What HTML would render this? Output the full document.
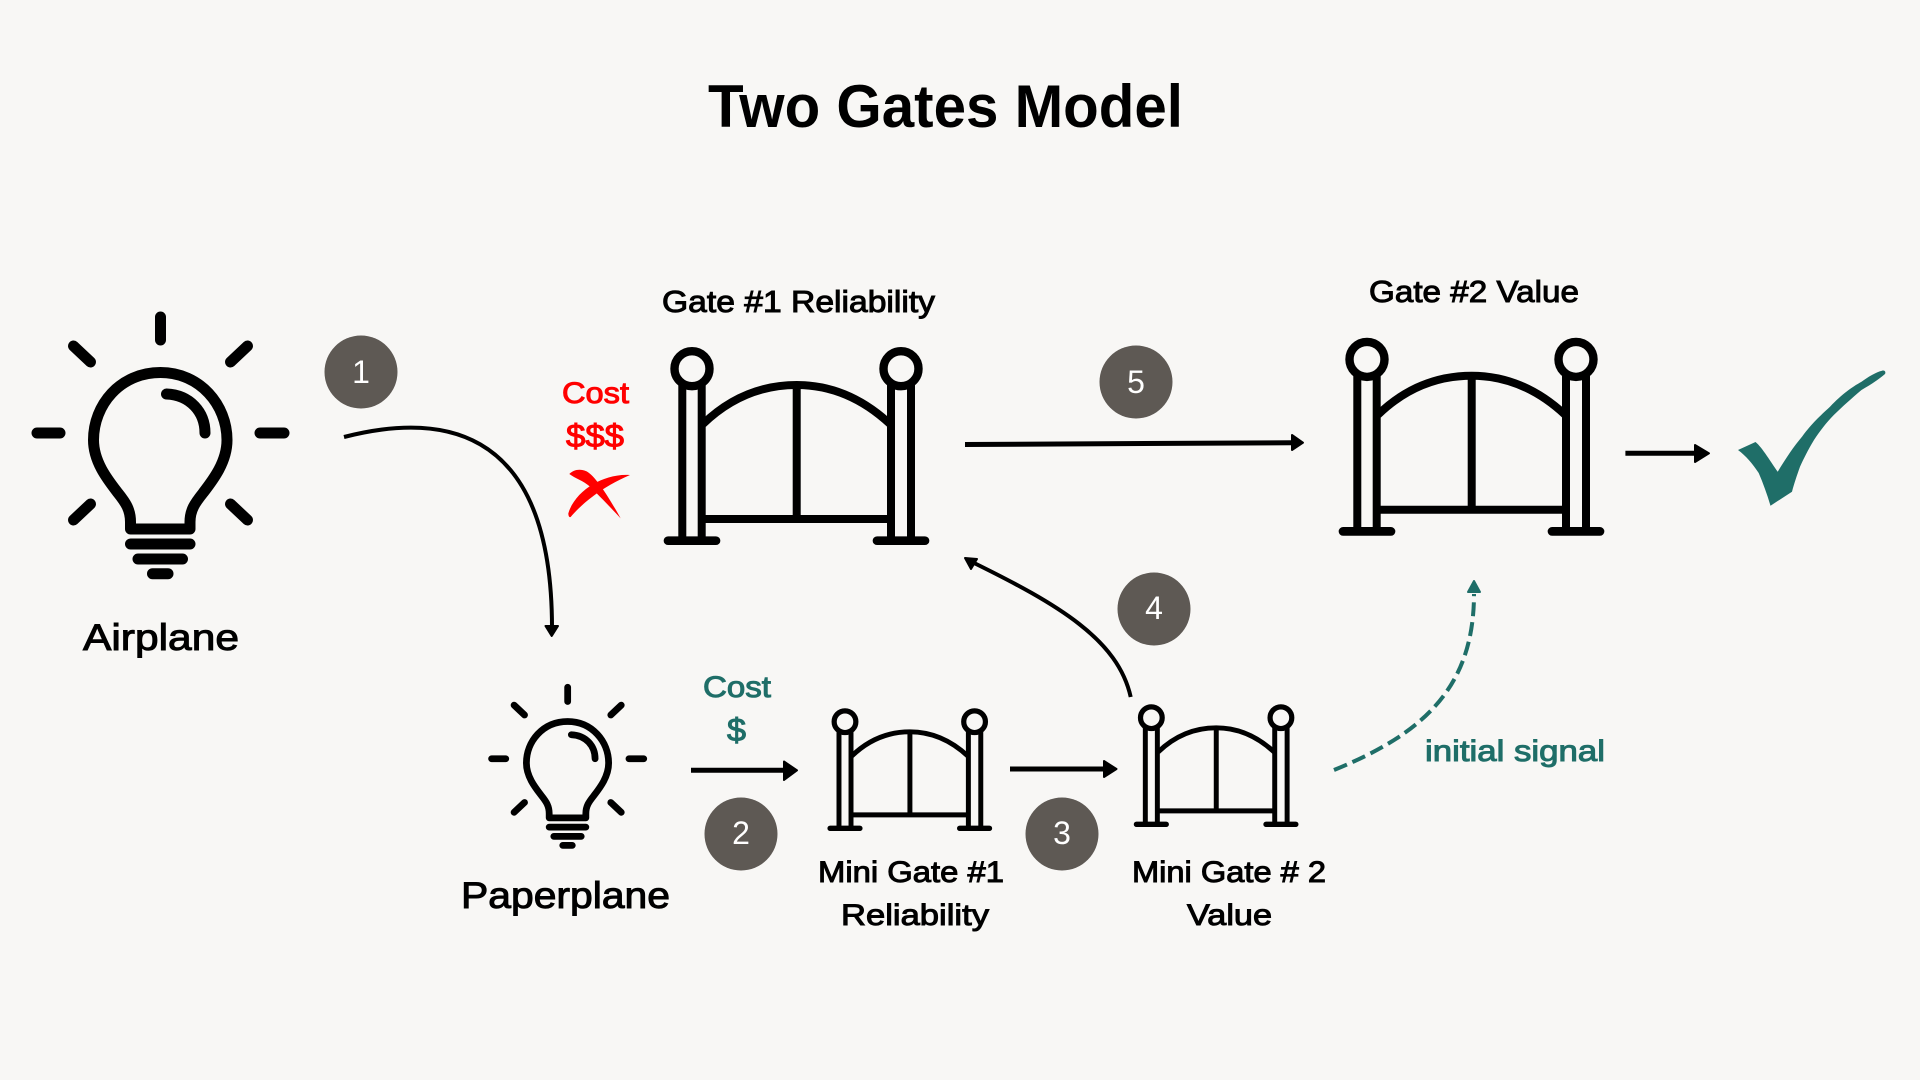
<!DOCTYPE html>
<html><head><meta charset="utf-8"><title>Two Gates Model</title>
<style>
html,body{margin:0;padding:0;background:#f8f7f5;width:1920px;height:1080px;overflow:hidden}
svg{display:block}
text{font-family:"Liberation Sans",sans-serif}
.m{fill:#000;stroke:#000;stroke-width:1}
.r{fill:#ff0000;stroke:#ff0000;stroke-width:1}
.t{fill:#1f6e68;stroke:#1f6e68;stroke-width:1}
.d{fill:#fff;font-size:32px;text-anchor:middle}
</style></head><body>
<svg width="1920" height="1080" viewBox="0 0 1920 1080" xmlns="http://www.w3.org/2000/svg">
<defs>
<g id="bulb" fill="none" stroke="#000" stroke-width="11" stroke-linecap="round" stroke-linejoin="round">
<path d="M160.5 317V340M37 433H60M260 433H284M73.500 346L90.500 362M247.500 346L230.500 362M90.500 504L73.500 520M230.500 504L247.500 520"/>
<path d="M160.500 372.500C120 372.500 93.500 405 93.500 440C93.500 462 108 480 118 493C126 503 130.500 510 130.500 522V529H190V522C190 510 195 503 203 493C213 480 227 462 227 440C227 405 200 372.500 160.500 372.500Z"/>
<path d="M166.500 394C190 395 205 412 205 433"/>
<path d="M130.500 544H190M138 559H182.500M152.500 573.700H168"/>
</g>
<g id="gate" fill="none" stroke="#000" stroke-width="8">
<path d="M682.300 385V541M701.700 385V541M891 385V541M911 385V541"/>
<circle cx="692" cy="368.700" r="17.500" stroke-width="8.400"/>
<circle cx="901" cy="368.700" r="17.500" stroke-width="8.400"/>
<path d="M668 540.700H716M877 540.700H925" stroke-width="8.700" stroke-linecap="round"/>
<path d="M703 424C730 398 762 385 796.700 385C831 385 862 398 890 424"/>
<path d="M796.700 385V519M703 519H890"/>
</g>
</defs>
<rect width="1920" height="1080" fill="#f8f7f5"/>

<text x="708" y="127" font-size="60" font-weight="700" fill="#000" textLength="475" lengthAdjust="spacingAndGlyphs">Two Gates Model</text>

<use href="#bulb"/>
<use href="#bulb" transform="translate(468.800 492) scale(.616)"/>
<use href="#gate"/>
<use href="#gate" transform="translate(675 -9.300)"/>
<use href="#gate" transform="translate(415.960 493.100) scale(.62)"/>
<use href="#gate" transform="translate(722.300 489.100) scale(.62)"/>

<text class="m" x="83" y="650" font-size="37" textLength="156" lengthAdjust="spacingAndGlyphs">Airplane</text>
<text class="m" x="461" y="908" font-size="37" textLength="209" lengthAdjust="spacingAndGlyphs">Paperplane</text>
<text class="m" x="662" y="312" font-size="31" textLength="273" lengthAdjust="spacingAndGlyphs">Gate #1 Reliability</text>
<text class="m" x="1369" y="302" font-size="31" textLength="210" lengthAdjust="spacingAndGlyphs">Gate #2 Value</text>
<text class="m" x="818" y="882" font-size="30" textLength="186" lengthAdjust="spacingAndGlyphs">Mini Gate #1</text>
<text class="m" x="841" y="925" font-size="30" textLength="148" lengthAdjust="spacingAndGlyphs">Reliability</text>
<text class="m" x="1132" y="882" font-size="30" textLength="194" lengthAdjust="spacingAndGlyphs">Mini Gate # 2</text>
<text class="m" x="1187" y="925" font-size="30" textLength="85" lengthAdjust="spacingAndGlyphs">Value</text>

<text class="r" x="562" y="403" font-size="30" textLength="67" lengthAdjust="spacingAndGlyphs">Cost</text>
<text class="r" x="566" y="447" font-size="32" textLength="58" lengthAdjust="spacingAndGlyphs">$$$</text>
<text class="t" x="703" y="697" font-size="30" textLength="68" lengthAdjust="spacingAndGlyphs">Cost</text>
<text class="t" x="727" y="741" font-size="32" textLength="19" lengthAdjust="spacingAndGlyphs">$</text>
<text class="t" x="1425" y="761" font-size="30" textLength="180" lengthAdjust="spacingAndGlyphs">initial signal</text>

<g transform="translate(540 270) scale(.33333)" fill="#ff0000">
<path d="M88 612C100 600 118 595 140 604C165 618 200 670 242 745C205 705 175 675 150 650C130 632 105 625 88 612Z"/>
<path d="M270 615C230 612 190 625 160 642C125 662 95 695 85 730C85 738 88 743 92 741C105 725 130 700 160 678C190 655 230 632 270 615Z"/>
</g>

<path fill="#1f6e68" d="M1738 450L1755.500 442C1762 447 1772 464 1777.700 471.700C1786 458 1794 446 1802 436.700C1812 423 1820 416 1830 406.700C1842 394 1852 387 1861.500 381.700C1868 377 1876 372 1882 370.700C1885 370 1886 372 1885 374C1878 380 1870 385 1861.500 390C1852 398 1842 407 1833.800 415C1826 423 1820 431 1814 440C1808 450 1804 458 1800 466.700C1797 475 1794 484 1792 491.700L1770.500 505.700C1767 494 1763 483 1758.700 473C1752 463 1746 456 1738 450Z"/>

<g fill="#5e5954">
<circle cx="361" cy="372" r="36.500"/><circle cx="741" cy="834" r="36.500"/><circle cx="1062" cy="834" r="36.500"/><circle cx="1154" cy="609" r="36.500"/><circle cx="1136" cy="382" r="36.500"/>
</g>
<text class="d" x="361" y="383">1</text>
<text class="d" x="741" y="844">2</text>
<text class="d" x="1062" y="844">3</text>
<text class="d" x="1154" y="619">4</text>
<text class="d" x="1136" y="393">5</text>

<g fill="none" stroke="#000">
<path d="M344 437C430 415 552 415 552 628" stroke-width="4"/>
<path d="M1130.700 697C1118 640 1060 605 970 561" stroke-width="4"/>
<path d="M691 770.300H786" stroke-width="5"/>
<path d="M1010 769H1105" stroke-width="5"/>
<path d="M965 444.500L1292 442.700" stroke-width="5"/>
<path d="M1625.400 453.300H1697" stroke-width="5"/>
</g>
<g fill="#000" stroke="#000" stroke-width="2" stroke-linejoin="round">
<path d="M545.500 626H558L551.700 636Z"/>
<path d="M784 761.500L797 770.300L784 780Z"/>
<path d="M1104 761L1116.500 769L1104 777Z"/>
<path d="M1292 435L1303 442.700L1292 450Z"/>
<path d="M1695 445L1709 453.300L1695 462Z"/>
<path d="M965 558L977 559L971 569Z"/>
</g>
<path d="M1334 770C1420 735 1474 690 1474 594" fill="none" stroke="#1f6e68" stroke-width="4" stroke-dasharray="14 6"/>
<path d="M1468 592H1480L1474 581Z" fill="#1f6e68" stroke="#1f6e68" stroke-width="2" stroke-linejoin="round"/>
</svg>
</body></html>
